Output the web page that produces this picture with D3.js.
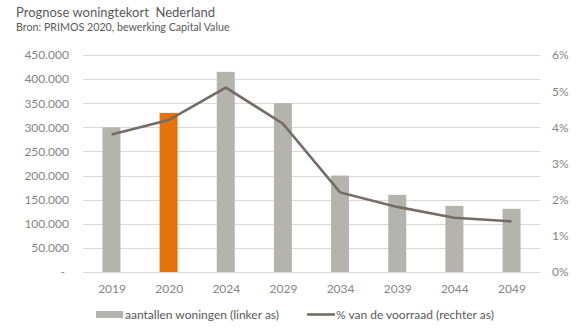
<!DOCTYPE html>
<html><head><meta charset="utf-8">
<script src="https://cdn.jsdelivr.net/npm/d3@7"></script>
<style>body{margin:0;background:#fff}svg{display:block;font-family:Lato,'Open Sans',sans-serif}</style>
</head><body>
<script>
const categories = ["2019","2020","2024","2029","2034","2039","2044","2049"];
const woningen = [300000,330000,415000,350000,200000,160000,137000,131000];
const voorraad = [3.8,4.2,5.1,4.1,2.2,1.8,1.5,1.4];
const leftTicks = [0,50000,100000,150000,200000,250000,300000,350000,400000,450000];
const rightTicks = [0,1,2,3,4,5,6];
const highlight = "2020";

const W=586,H=332;
const svg=d3.select("body").append("svg").attr("width",W).attr("height",H);
const x=d3.scaleBand().domain(categories).range([83,540]).paddingInner(0.685).paddingOuter(0.34);
const xc=d3.scalePoint().domain(categories).range([83,540]).padding(0.5);
const yL=d3.scaleLinear().domain([0,450000]).range([272,55]);
const yR=d3.scaleLinear().domain([0,6]).range([272,55]);
const fmt=v=>v===0?"-":d3.format(",")(v).replace(/,/g,".");

svg.append("text").attr("x",16).attr("y",17).attr("fill","#595959").style("font-size","13px").attr("xml:space","preserve").text("Prognose woningtekort  Nederland");
svg.append("text").attr("x",16).attr("y",31).attr("fill","#595959").style("font-size","10.7px").text("Bron: PRIMOS 2020, bewerking Capital Value");

// gridlines
svg.append("g").selectAll("line").data(leftTicks).join("line")
 .attr("x1",83).attr("x2",540).attr("y1",d=>Math.round(yL(d))+0.5).attr("y2",d=>Math.round(yL(d))+0.5)
 .attr("stroke","#d9d9d9").attr("stroke-width",1);

// left axis
const gl=svg.append("g").attr("transform","translate(69,0)").call(d3.axisLeft(yL).tickValues(leftTicks).tickFormat(fmt).tickSize(0).tickPadding(0));
gl.select(".domain").remove();
gl.selectAll("text").attr("fill","#858585").style("font-size","12px").style("font-family","Lato");
gl.selectAll(".tick").filter(d=>d===0).select("text").attr("dx",-4);

// right axis
const gr=svg.append("g").attr("transform","translate(552,0)").call(d3.axisRight(yR).tickValues(rightTicks).tickFormat(d=>d+"%").tickSize(0).tickPadding(0));
gr.select(".domain").remove();
gr.selectAll("text").attr("fill","#858585").style("font-size","12px").style("font-family","Lato");

// bars
svg.append("g").selectAll("rect").data(categories).join("rect")
 .attr("x",d=>x(d)).attr("width",x.bandwidth())
 .attr("y",(d,i)=>yL(woningen[i])).attr("height",(d,i)=>yL(0)-yL(woningen[i]))
 .attr("fill",d=>d===highlight?"#e5730b":"#b5b3ae");

// line
svg.append("path").datum(voorraad)
 .attr("d",d3.line().x((d,i)=>xc(categories[i])).y(d=>yR(d)))
 .attr("fill","none").attr("stroke","#746c65").attr("stroke-width",2.6);

// x axis
const gx=svg.append("g").attr("transform","translate(0,284)").call(d3.axisBottom(xc).tickSize(0).tickPadding(0));
gx.select(".domain").remove();
gx.selectAll("text").attr("fill","#858585").style("font-size","12px").style("font-family","Lato").attr("dy","0.71em");

// legend
const lg=svg.append("g");
lg.append("rect").attr("x",96).attr("y",311).attr("width",27).attr("height",7).attr("fill","#b5b3ae");
lg.append("text").attr("x",125).attr("y",318.5).attr("fill","#595959").style("font-size","12px").text("aantallen woningen (linker as)");
lg.append("line").attr("x1",307).attr("x2",335).attr("y1",314.5).attr("y2",314.5).attr("stroke","#746c65").attr("stroke-width",2.6);
lg.append("text").attr("x",336).attr("y",318.5).attr("fill","#595959").style("font-size","12px").text("% van de voorraad (rechter as)");
</script>
</body></html>
